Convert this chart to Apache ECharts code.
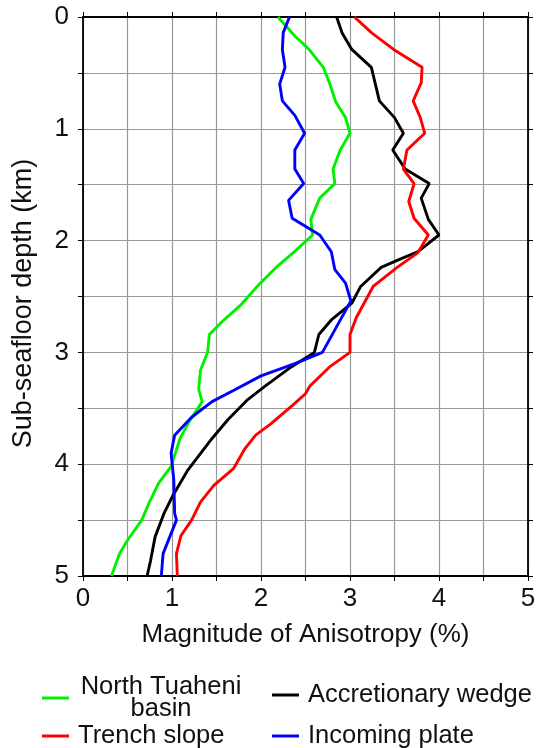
<!DOCTYPE html>
<html>
<head>
<meta charset="utf-8">
<script src="https://cdn.jsdelivr.net/npm/echarts@6/dist/echarts.min.js"></script>
<style>
  html, body { margin: 0; padding: 0; background: #fff; }
  #chart { width: 540px; height: 748px; }
</style>
</head>
<body>
<div id="chart"></div>
<script>
// depth (km) and anisotropy (%)
const greenDepth = [0, 0.17, 0.29, 0.45, 0.59, 0.76, 0.9, 1.04, 1.19, 1.36, 1.49, 1.62, 1.81, 1.95, 2.11, 2.24, 2.39, 2.57, 2.72, 2.84, 3.0, 3.16, 3.33, 3.44, 3.61, 3.77, 4.02, 4.17, 4.35, 4.5, 4.68, 4.8, 5.0];
const greenValue = [2.19, 2.38, 2.54, 2.70, 2.77, 2.84, 2.95, 3.0, 2.89, 2.81, 2.83, 2.66, 2.56, 2.58, 2.36, 2.17, 1.98, 1.78, 1.57, 1.42, 1.40, 1.32, 1.30, 1.34, 1.20, 1.09, 0.99, 0.85, 0.74, 0.66, 0.50, 0.41, 0.32];

const blackDepth = [0, 0.14, 0.29, 0.45, 0.75, 0.9, 1.04, 1.19, 1.36, 1.49, 1.62, 1.81, 1.95, 2.1, 2.17, 2.24, 2.41, 2.56, 2.71, 2.84, 3.0, 3.13, 3.3, 3.43, 3.6, 3.77, 4.05, 4.28, 4.44, 4.65, 4.86, 5.0];
const blackValue = [2.85, 2.91, 3.02, 3.24, 3.33, 3.50, 3.60, 3.48, 3.62, 3.89, 3.80, 3.88, 4.0, 3.76, 3.55, 3.35, 3.12, 3.02, 2.79, 2.65, 2.60, 2.34, 2.05, 1.84, 1.63, 1.45, 1.18, 1.01, 0.91, 0.81, 0.76, 0.72];

const redDepth = [0, 0.14, 0.29, 0.45, 0.59, 0.75, 0.9, 1.04, 1.19, 1.36, 1.49, 1.65, 1.8, 1.95, 2.11, 2.24, 2.41, 2.69, 2.84, 3.0, 3.13, 3.3, 3.37, 3.47, 3.64, 3.74, 3.86, 4.04, 4.19, 4.34, 4.5, 4.64, 4.8, 5.0];
const redValue = [3.05, 3.24, 3.49, 3.81, 3.80, 3.71, 3.79, 3.84, 3.64, 3.60, 3.72, 3.66, 3.72, 3.88, 3.76, 3.53, 3.26, 3.07, 3.0, 3.0, 2.77, 2.55, 2.50, 2.36, 2.11, 1.94, 1.82, 1.69, 1.47, 1.32, 1.22, 1.10, 1.05, 1.06];

const blueDepth = [0, 0.14, 0.29, 0.45, 0.6, 0.75, 0.88, 1.04, 1.19, 1.36, 1.49, 1.64, 1.8, 1.95, 2.1, 2.26, 2.38, 2.54, 2.74, 3.0, 3.1, 3.21, 3.34, 3.44, 3.58, 3.74, 3.9, 4.14, 4.44, 4.5, 4.8, 5.0];
const blueValue = [2.32, 2.25, 2.24, 2.27, 2.21, 2.24, 2.38, 2.49, 2.38, 2.38, 2.48, 2.31, 2.35, 2.66, 2.79, 2.83, 2.95, 3.01, 2.87, 2.69, 2.38, 2.0, 1.69, 1.45, 1.22, 1.03, 0.99, 1.02, 1.03, 1.05, 0.90, 0.88];

const axisTicks = [0, 1, 2, 3, 4, 5];

const FONT = "'Liberation Sans', Arial, sans-serif";

function pairs(vals, depths) {
  return vals.map(function (v, i) { return [v, depths[i]]; });
}

function tickLabel(v) {
  return axisTicks.indexOf(v) >= 0 ? String(v) : '';
}

const chart = echarts.init(document.getElementById('chart'));

function axisBase(extra) {
  return Object.assign({
    type: 'value',
    min: 0,
    max: 5,
    interval: 0.5,
    axisLine: { show: true, onZero: false, lineStyle: { color: '#000', width: 1.8 } },
    axisTick: { show: true, inside: false, length: 5, lineStyle: { color: '#000', width: 1 } },
    splitLine: { show: false }
  }, extra);
}

function lineSeries(name, color, data) {
  return {
    name: name,
    type: 'line',
    data: data,
    showSymbol: false,
    symbol: 'none',
    lineStyle: { color: color, width: 2.9 },
    itemStyle: { color: color },
    animation: false
  };
}

function legendAt(name, left, top, style) {
  return {
    data: [name],
    left: left,
    top: top,
    padding: 0,
    icon: 'rect',
    itemWidth: 27,
    itemHeight: 3,
    selectedMode: false,
    textStyle: style || { fontFamily: FONT, fontSize: 25.5, color: '#111', padding: [0, 0, 0, 4] }
  };
}

const option = {
  backgroundColor: '#fff',
  grid: { left: 83, right: 12, top: 17, bottom: 172 },
  xAxis: [
    axisBase({
      position: 'bottom',
      name: 'Magnitude of Anisotropy (%)',
      nameLocation: 'middle',
      nameGap: 46,
      nameTextStyle: { fontFamily: FONT, fontSize: 26, color: '#111' },
      axisLabel: { margin: 10, fontFamily: FONT, fontSize: 26, color: '#111', formatter: tickLabel },
      splitLine: { show: true, lineStyle: { color: '#999', width: 1.2 } }
    }),
    axisBase({ position: 'top', axisLabel: { show: false } })
  ],
  yAxis: [
    axisBase({
      position: 'left',
      inverse: true,
      name: 'Sub-seafloor depth (km)',
      nameLocation: 'middle',
      nameRotate: 90,
      nameGap: 46,
      nameTextStyle: { fontFamily: FONT, fontSize: 27, color: '#111', padding: [0, 14, 0, 0] },
      axisLabel: { margin: 14, fontFamily: FONT, fontSize: 26, color: '#111', formatter: tickLabel },
      splitLine: { show: true, lineStyle: { color: '#999', width: 1.2 } }
    }),
    axisBase({ position: 'right', inverse: true, axisLabel: { show: false } })
  ],
  legend: [
    legendAt('North Tuaheni basin', 42, 674, {
      fontFamily: FONT, fontSize: 25, color: '#111', padding: [0, 0, 0, 4],
      rich: { c: { fontFamily: FONT, fontSize: 25.5, color: '#111', width: 166, align: 'center', lineHeight: 22 } }
    }),
    legendAt('Accretionary wedge', 272, 682),
    legendAt('Trench slope', 42, 723),
    legendAt('Incoming plate', 272, 723)
  ],
  series: [
    lineSeries('North Tuaheni basin', '#00f000', pairs(greenValue, greenDepth)),
    lineSeries('Accretionary wedge', '#000000', pairs(blackValue, blackDepth)),
    lineSeries('Trench slope', '#ff0000', pairs(redValue, redDepth)),
    lineSeries('Incoming plate', '#0000ff', pairs(blueValue, blueDepth))
  ]
};

// two-line centred label for the green entry
option.legend[0].formatter = function () { return '{c|North Tuaheni}\n{c|basin}'; };

chart.setOption(option);
</script>
</body>
</html>
